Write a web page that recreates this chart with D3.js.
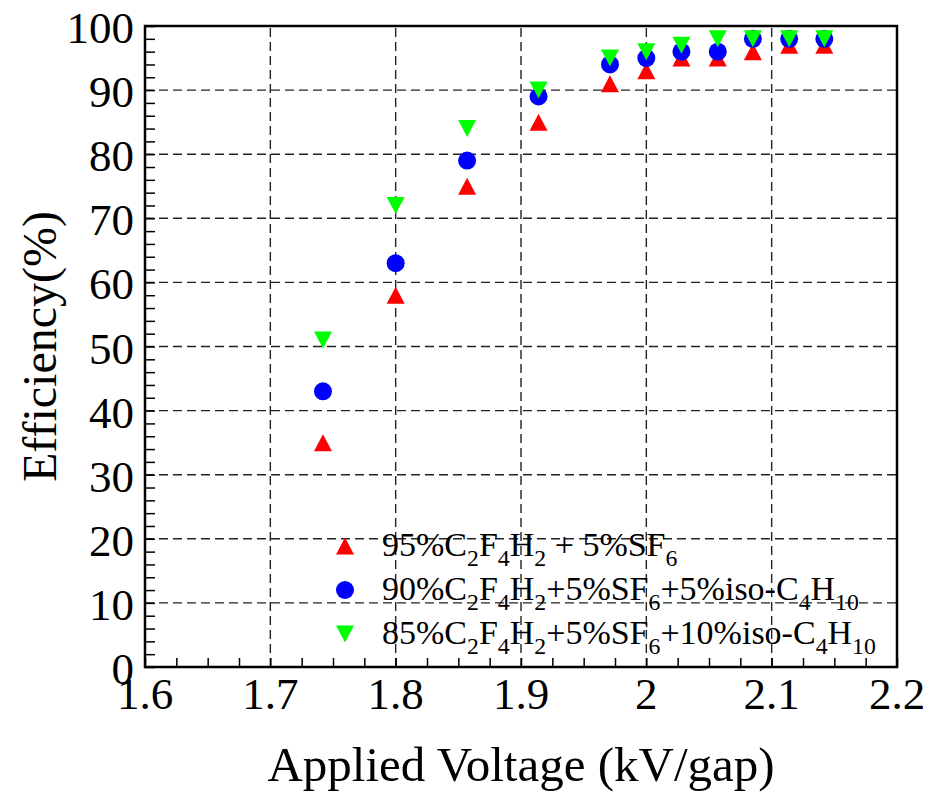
<!DOCTYPE html>
<html>
<head>
<meta charset="utf-8">
<script src="https://cdn.jsdelivr.net/npm/d3@7"></script>
<style>
  body { margin: 0; background: #fff; }
  text { font-family: "Liberation Serif", "DejaVu Serif", serif; fill: #000; }
</style>
</head>
<body>
<svg id="chart" width="944" height="794"></svg>
<script>
// voltage per gap (kV/gap)
var voltage = [1.742, 1.8, 1.857, 1.914, 1.971, 2.0, 2.028, 2.057, 2.085, 2.114, 2.142];
// efficiency (%) for the three gas mixtures
var eff95 = [35, 58, 75, 85, 91, 93, 95, 95, 96, 97, 97];
var eff90 = [43, 63, 79, 89, 94, 95, 96, 96, 98, 98, 98];
var eff85 = [51, 72, 84, 90, 95, 96, 97, 98, 98, 98, 98];

var xTicks = [1.6, 1.7, 1.8, 1.9, 2.0, 2.1, 2.2];
var xTickLabels = ["1.6", "1.7", "1.8", "1.9", "2", "2.1", "2.2"];
var yTicks = [0, 10, 20, 30, 40, 50, 60, 70, 80, 90, 100];

var legendLabels = [
  "95%C_{2}F_{4}H_{2} + 5%SF_{6}",
  "90%C_{2}F_{4}H_{2}+5%SF_{6}+5%iso-C_{4}H_{10}",
  "85%C_{2}F_{4}H_{2}+5%SF_{6}+10%iso-C_{4}H_{10}"
];

var series = [
  {values: eff95, color: "#ff0000", shape: "up"},
  {values: eff90, color: "#0000ff", shape: "circle"},
  {values: eff85, color: "#00ff00", shape: "down"}
];

var margin = {top: 26, right: 47, bottom: 127, left: 145};
var width = 944, height = 794;
var svg = d3.select("#chart");

var x = d3.scaleLinear().domain([1.6, 2.2]).range([margin.left, width - margin.right]);
var y = d3.scaleLinear().domain([0, 100]).range([height - margin.bottom, margin.top]);

// grid
var grid = svg.append("g")
  .attr("stroke", "#222")
  .attr("stroke-width", 1.4)
  .attr("stroke-dasharray", "9,5");
grid.selectAll("line.gx").data(xTicks.slice(1, -1)).enter().append("line")
  .attr("x1", function(d){ return x(d); }).attr("x2", function(d){ return x(d); })
  .attr("y1", y(0)).attr("y2", y(100));
grid.selectAll("line.gy").data(yTicks.slice(1, -1)).enter().append("line")
  .attr("y1", function(d){ return y(d); }).attr("y2", function(d){ return y(d); })
  .attr("x1", x(1.6)).attr("x2", x(2.2));

// axes (ticks inside the frame)
var xMinor = d3.range(0, 25).map(function(i){ return 1.6 + i * 0.025; });
var yMinor = d3.range(0, 51).map(function(i){ return i * 2; });

var xAxis = svg.append("g").attr("transform", "translate(0," + y(0) + ")")
  .call(d3.axisBottom(x).tickValues(xMinor).tickSize(-9).tickFormat(""));
var yAxis = svg.append("g").attr("transform", "translate(" + x(1.6) + ",0)")
  .call(d3.axisLeft(y).tickValues(yMinor).tickSize(-10).tickFormat(""));
[xAxis, yAxis].forEach(function(a){
  a.select(".domain").remove();
  a.selectAll(".tick line").attr("stroke", "#000").attr("stroke-width", 1.5);
});

svg.append("g").selectAll("text").data(xTicks).enter().append("text")
  .attr("x", function(d){ return x(d); })
  .attr("y", y(0) + 42)
  .attr("text-anchor", "middle")
  .attr("font-size", 45)
  .text(function(d, i){ return xTickLabels[i]; });

svg.append("g").selectAll("text").data(yTicks).enter().append("text")
  .attr("x", x(1.6) - 11)
  .attr("y", function(d){ return y(d) + 17; })
  .attr("text-anchor", "end")
  .attr("font-size", 45)
  .text(function(d){ return d; });

// frame
svg.append("rect")
  .attr("x", x(1.6)).attr("y", y(100))
  .attr("width", x(2.2) - x(1.6)).attr("height", y(0) - y(100))
  .attr("fill", "none").attr("stroke", "#000").attr("stroke-width", 2.5);

// axis titles
svg.append("text")
  .attr("x", (x(1.6) + x(2.2)) / 2)
  .attr("y", 781)
  .attr("text-anchor", "middle")
  .attr("font-size", 49)
  .text("Applied Voltage (kV/gap)");

svg.append("text")
  .attr("transform", "translate(56," + ((y(0) + y(100)) / 2) + ") rotate(-90)")
  .attr("text-anchor", "middle")
  .attr("font-size", 48)
  .text("Efficiency(%)");

// markers
function marker(sel, shape, color) {
  if (shape === "circle") {
    sel.append("circle").attr("r", 9).attr("fill", color);
  } else {
    var s = shape === "up" ? 1 : -1;
    sel.append("path")
      .attr("d", "M-9," + (8.5 * s) + "L9," + (8.5 * s) + "L0," + (-8.5 * s) + "Z")
      .attr("fill", color);
  }
}

series.forEach(function(s){
  svg.append("g").selectAll("g").data(s.values).enter().append("g")
    .attr("transform", function(d, i){ return "translate(" + x(voltage[i]) + "," + y(d) + ")"; })
    .each(function(){ marker(d3.select(this), s.shape, s.color); });
});

// legend
function latex(textSel, str, size) {
  var parts = str.split(/(_\{[^}]*\})/);
  var shifted = false;
  parts.forEach(function(p){
    if (!p) return;
    if (p.charAt(0) === "_") {
      textSel.append("tspan").attr("font-size", size * 0.7).attr("dy", 10).text(p.slice(2, -1));
      shifted = true;
    } else {
      textSel.append("tspan").attr("font-size", size).attr("dy", shifted ? -10 : 0).text(p);
      shifted = false;
    }
  });
}

var legendY = [546, 590, 634];
legendLabels.forEach(function(lbl, i){
  var g = svg.append("g").attr("transform", "translate(345," + legendY[i] + ")");
  marker(g, series[i].shape, series[i].color);
  var t = g.append("text").attr("x", 37).attr("y", 10);
  latex(t, lbl, 34);
});
</script>
</body>
</html>
